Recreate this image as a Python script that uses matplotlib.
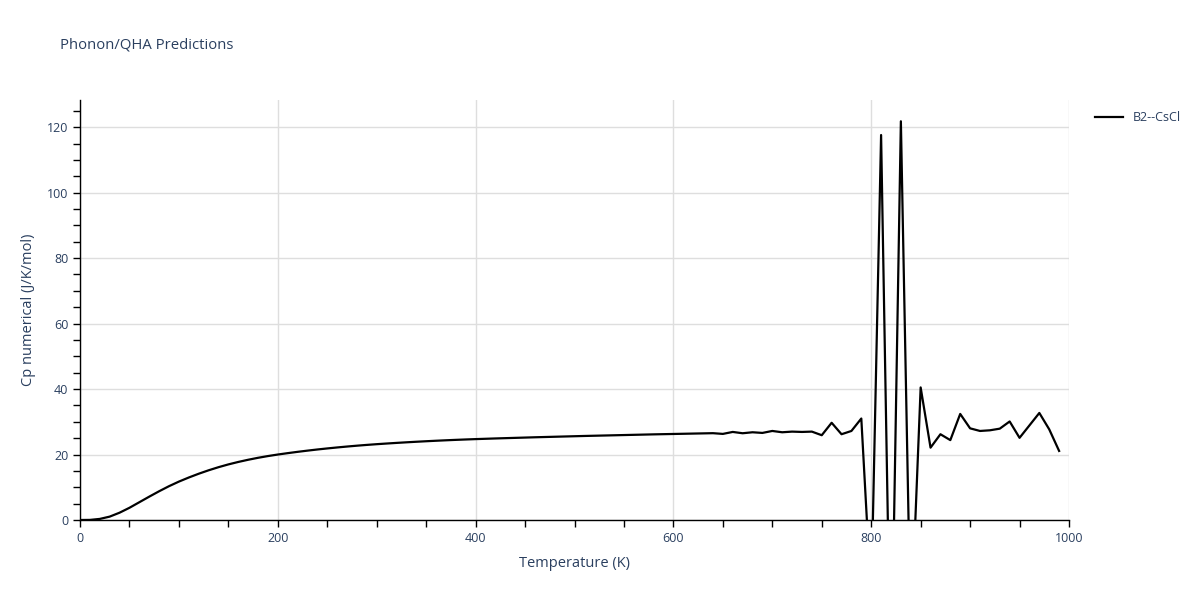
import matplotlib
matplotlib.use("Agg")
import matplotlib.pyplot as plt
from matplotlib.ticker import MultipleLocator

# Temperature grid (K) and heat capacity values
temperature = list(range(0, 1000, 10))
cp_numerical = [
    0.0, 0.03, 0.33, 1.03, 2.23, 3.73, 5.43, 7.13, 8.78, 10.33,
    11.73, 12.98, 14.13, 15.18, 16.13, 16.98, 17.73, 18.40, 19.0, 19.53,
    20.0, 20.42, 20.82, 21.19, 21.54, 21.86, 22.16, 22.44, 22.70, 22.94,
    23.16, 23.36, 23.55, 23.73, 23.90, 24.06, 24.21, 24.35, 24.48, 24.60,
    24.71, 24.81, 24.91, 25.0, 25.09, 25.18, 25.27, 25.35, 25.43, 25.51,
    25.59, 25.67, 25.74, 25.81, 25.88, 25.95, 26.02, 26.09, 26.16, 26.22,
    26.28, 26.34, 26.40, 26.46, 26.52, 26.3, 26.9, 26.5, 26.8, 26.6,
    27.2, 26.8, 27.0, 26.9, 27.0, 25.9, 29.7, 26.2, 27.2, 31.0,
    -24.0, 117.6, -55.0, 121.8, -35.0, 40.5, 22.1, 26.2, 24.4, 32.4,
    28.0, 27.2, 27.4, 27.9, 30.1, 25.1, 28.9, 32.7, 27.7, 21.1,
]
series_name = "B2--CsCl"

text_color = "#2a3f5f"
grid_color = "#dedede"
plt.rcParams["font.family"] = ["Open Sans", "DejaVu Sans"]

fig = plt.figure(figsize=(12, 6), dpi=100)
ax = fig.add_axes([80 / 1200, 80 / 600, 989 / 1200, 420 / 600])

ax.plot(temperature, cp_numerical, color="black", linewidth=1.6, label=series_name)

ax.set_xlim(0, 1000)
ax.set_ylim(0, 128.3)

ax.xaxis.set_major_locator(MultipleLocator(200))
ax.xaxis.set_minor_locator(MultipleLocator(50))
ax.yaxis.set_major_locator(MultipleLocator(20))
ax.yaxis.set_minor_locator(MultipleLocator(5))

ax.grid(which="major", color=grid_color, linewidth=1)
ax.set_axisbelow(True)

for side in ["top", "right"]:
    ax.spines[side].set_visible(False)
for side in ["left", "bottom"]:
    ax.spines[side].set_color("black")
    ax.spines[side].set_linewidth(1)

ax.tick_params(which="both", direction="out", color="black", labelcolor=text_color,
               labelsize=9)
ax.tick_params(which="major", length=5, width=1)
ax.tick_params(which="minor", length=5, width=1)

ax.set_xlabel("Temperature (K)", color=text_color, fontsize=10.5, labelpad=8)
ax.set_ylabel("Cp numerical (J/K/mol)", color=text_color, fontsize=10.5, labelpad=8)

fig.text(60 / 1200, 1 - 45 / 600, "Phonon/QHA Predictions", color=text_color,
         fontsize=10.7, va="center", ha="left")

leg = ax.legend(loc="upper left", bbox_to_anchor=(1.015, 1.0), frameon=False,
                fontsize=9, handlelength=2.2, labelcolor=text_color)

fig.savefig("out.png", dpi=100)
